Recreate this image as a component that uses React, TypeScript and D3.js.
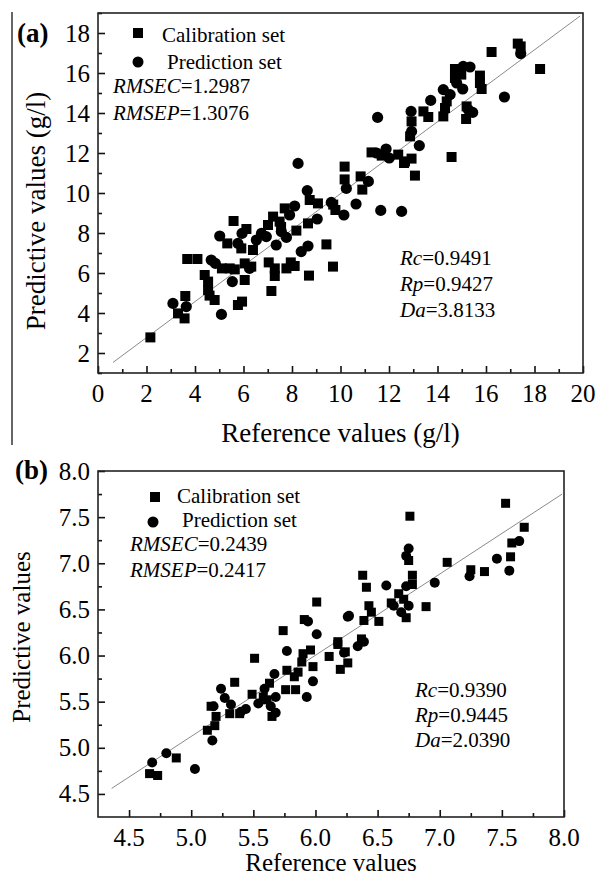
import React, { useEffect, useRef } from "react";
import * as d3 from "d3";

// panel (a): values in g/l
const calibA: [number, number][] = [
  [2.16, 2.78], [3.3, 3.98], [3.57, 3.73], [3.6, 4.85], [3.68, 6.7], [4.1, 6.7], [4.4, 5.9], [4.54, 5.57],
  [4.54, 5.15], [4.6, 4.87], [4.81, 4.65], [5.11, 6.23], [5.43, 6.23], [5.64, 6.18], [6.05, 6.48], [6.32, 6.32],
  [6.05, 5.65], [5.77, 4.4], [5.94, 4.57], [5.33, 7.48], [5.59, 8.6], [5.91, 7.23], [6.12, 8.2], [6.39, 7.15],
  [7.01, 8.4], [7.22, 8.82], [7.49, 8.57], [7.7, 9.23], [8.18, 8.12], [7.04, 6.53], [7.29, 6.23], [7.29, 5.85],
  [7.77, 6.23], [7.95, 6.53], [8.11, 6.35], [7.15, 5.1], [8.7, 5.87], [8.66, 8.48], [8.73, 9.65], [9.07, 9.48],
  [9.42, 7.43], [9.69, 6.32], [9.79, 9.15], [10.17, 11.32], [10.17, 10.68], [10.83, 10.83], [10.9, 10.17],
  [9.7, 9.42], [13.07, 10.87], [14.58, 11.8], [11.28, 12.03], [11.7, 11.87], [12.38, 11.92], [12.66, 11.58],
  [12.93, 11.72], [12.87, 12.83], [12.93, 13.58], [13.42, 14.08], [13.62, 13.8], [14.24, 13.83], [14.31, 14.25],
  [14.38, 14.58], [14.72, 15.75], [14.72, 16.2], [14.98, 15.92], [15.75, 15.87], [15.75, 15.5], [15.82, 15.2],
  [15.2, 14.33], [15.18, 13.7], [16.23, 17.05], [17.31, 17.47], [17.43, 17.33], [18.23, 16.2], [12.62, 11.5],
  [7.55, 8.3],
];
const predA: [number, number][] = [
  [3.09, 4.48], [3.64, 4.32], [4.67, 6.65], [4.84, 6.48], [5.09, 3.93], [5.54, 5.57], [5.02, 7.85], [5.77, 7.48],
  [5.94, 7.98], [6.53, 7.65], [6.74, 7.98], [6.94, 7.82], [7.35, 7.4], [7.56, 8.07], [7.77, 7.78], [7.9, 8.9],
  [8.11, 9.35], [8.38, 7.07], [8.66, 7.35], [8.63, 10.12], [9.04, 8.7], [8.25, 11.48], [9.62, 9.53], [10.14, 8.9],
  [10.24, 10.23], [6.25, 6.23], [11.15, 10.58], [10.64, 9.45], [11.66, 9.13], [12.52, 9.08], [11.49, 12.0],
  [11.88, 12.2], [12.01, 11.75], [13.25, 12.37], [12.93, 13.08], [12.91, 14.08], [11.53, 13.78], [13.72, 14.63],
  [14.24, 15.17], [14.52, 14.92], [14.79, 15.5], [15.06, 16.33], [15.34, 16.3], [15.04, 15.2], [15.27, 14.17],
  [15.45, 14.03], [16.76, 14.8], [17.43, 16.97],
];
const fitA: [number, number][] = [[0.62, 1.53], [19.88, 18.85]];
const statsA = [["RMSEC", "=1.2987"], ["RMSEP", "=1.3076"]];
const coefA = [["Rc", "=0.9491"], ["Rp", "=0.9427"], ["Da", "=3.8133"]];

// panel (b)
const calibB: [number, number][] = [
  [4.665, 4.72], [4.73, 4.7], [4.88, 4.89], [5.13, 5.19], [5.19, 5.24], [5.16, 5.45], [5.2, 5.34], [5.31, 5.37],
  [5.35, 5.71], [5.39, 5.37], [5.49, 5.58], [5.51, 5.97], [5.58, 5.55], [5.61, 5.52], [5.65, 5.34], [5.63, 5.7],
  [5.76, 5.63], [5.77, 5.84], [5.84, 5.63], [5.83, 5.77], [5.74, 6.27], [5.9, 6.02], [5.91, 6.39], [5.98, 5.88],
  [5.96, 6.06], [6.01, 6.58], [6.11, 5.99], [6.18, 6.15], [6.2, 5.85], [6.24, 6.04], [5.89, 5.93], [5.86, 5.82],
  [6.26, 5.92], [6.18, 6.12], [6.37, 6.18], [6.39, 6.38], [6.43, 6.54], [6.45, 6.47], [6.51, 6.37], [6.38, 6.87],
  [6.41, 6.74], [6.61, 6.57], [6.67, 6.67], [6.73, 6.41], [6.71, 6.61], [6.78, 6.77], [6.78, 6.87], [6.75, 7.03],
  [6.76, 7.51], [6.89, 6.53], [7.06, 7.01], [7.25, 6.93], [7.36, 6.91], [7.57, 7.07], [7.58, 7.22], [7.68, 7.39],
  [7.53, 7.65],
];
const predB: [number, number][] = [
  [4.686, 4.84], [4.8, 4.94], [5.03, 4.77], [5.17, 5.08], [5.18, 5.45], [5.24, 5.64], [5.27, 5.54], [5.32, 5.47],
  [5.44, 5.42], [5.4, 5.39], [5.54, 5.48], [5.59, 5.64], [5.64, 5.45], [5.68, 5.38], [5.68, 5.55], [5.67, 5.8],
  [5.77, 6.05], [5.94, 6.37], [5.98, 5.72], [5.93, 5.55], [6.01, 6.23], [6.26, 6.42], [6.23, 6.03], [6.34, 6.1],
  [6.39, 6.15], [6.27, 6.43], [6.57, 6.76], [6.63, 6.54], [6.69, 6.47], [6.75, 6.54], [6.73, 6.75], [6.75, 7.16],
  [6.73, 7.08], [6.96, 6.79], [7.24, 6.86], [7.46, 7.05], [7.56, 6.92], [7.64, 7.24],
];
const fitB: [number, number][] = [[4.36, 4.56], [7.985, 7.75]];
const statsB = [["RMSEC", "=0.2439"], ["RMSEP", "=0.2417"]];
const coefB = [["Rc", "=0.9390"], ["Rp", "=0.9445"], ["Da", "=2.0390"]];

const ticksA = d3.range(0, 21, 2);
const ticksAy = d3.range(2, 19, 2);
const ticksB = d3.range(4.5, 8.01, 0.5);

const FONT = '"Liberation Serif", "Times New Roman", serif';

function drawPanel(svg: any, o: any) {
  const x = d3.scaleLinear().domain(o.xDomain).range([o.left, o.right]);
  const y = d3.scaleLinear().domain(o.yDomain).range([o.bottom, o.top]);
  const g = svg.append("g");

  // inward ticks
  const xAxis = d3.axisTop(x).tickValues(o.xTicks).tickSize(7).tickFormat(() => "");
  const xMinor = d3.axisTop(x).tickValues(o.xMinor).tickSize(4).tickFormat(() => "");
  const yAxis = d3.axisRight(y).tickValues(o.yTicks).tickSize(7).tickFormat(() => "");
  const yMinor = d3.axisRight(y).tickValues(o.yMinor).tickSize(4).tickFormat(() => "");
  [
    [xAxis, `translate(0,${o.bottom})`],
    [xMinor, `translate(0,${o.bottom})`],
    [yAxis, `translate(${o.left},0)`],
    [yMinor, `translate(${o.left},0)`],
  ].forEach(([ax, tr]: any) => {
    const a = g.append("g").attr("transform", tr).call(ax);
    a.select(".domain").remove();
    a.selectAll("line").attr("stroke", "#111").attr("stroke-width", 1.6);
  });

  g.append("rect")
    .attr("x", o.left).attr("y", o.top)
    .attr("width", o.right - o.left).attr("height", o.bottom - o.top)
    .attr("fill", "none").attr("stroke", "#222").attr("stroke-width", 1.6);

  // tick labels
  g.selectAll(".xl").data(o.xTicks).enter().append("text")
    .attr("x", (d: number) => x(d)).attr("y", o.bottom + 29)
    .attr("text-anchor", "middle").attr("font-size", 25).attr("font-family", FONT)
    .text(o.fmt);
  g.selectAll(".yl").data(o.yTicks).enter().append("text")
    .attr("x", o.left - 8).attr("y", (d: number) => y(d) + 8.5)
    .attr("text-anchor", "end").attr("font-size", 25).attr("font-family", FONT)
    .text(o.fmt);

  // fit line
  g.append("line")
    .attr("x1", x(o.fit[0][0])).attr("y1", y(o.fit[0][1]))
    .attr("x2", x(o.fit[1][0])).attr("y2", y(o.fit[1][1]))
    .attr("stroke", "#8a8a8a").attr("stroke-width", 1);

  // points
  g.selectAll(".sq").data(o.calib).enter().append("rect")
    .attr("x", (d: number[]) => x(d[0]) - o.sq / 2)
    .attr("y", (d: number[]) => y(d[1]) - o.sq / 2)
    .attr("width", o.sq).attr("height", o.sq).attr("fill", "#000");
  g.selectAll(".ci").data(o.pred).enter().append("circle")
    .attr("cx", (d: number[]) => x(d[0])).attr("cy", (d: number[]) => y(d[1]))
    .attr("r", o.r).attr("fill", "#000");

  // legend
  const lg = o.legend;
  g.append("rect").attr("x", lg.sx - 5).attr("y", lg.sy - 5).attr("width", 10).attr("height", 10).attr("fill", "#000");
  g.append("text").attr("x", lg.tx1).attr("y", lg.ty1).attr("font-size", 21).attr("font-family", FONT).text("Calibration set");
  g.append("circle").attr("cx", lg.cx).attr("cy", lg.cy).attr("r", 5.5).attr("fill", "#000");
  g.append("text").attr("x", lg.tx2).attr("y", lg.ty2).attr("font-size", 21).attr("font-family", FONT).text("Prediction set");

  const statText = (rows: string[][], x0: number, ys: number[]) => {
    rows.forEach((r, i) => {
      const t = g.append("text").attr("x", x0).attr("y", ys[i]).attr("font-size", 21).attr("font-family", FONT);
      t.append("tspan").attr("font-style", "italic").text(r[0]);
      t.append("tspan").text(r[1]);
    });
  };
  statText(o.stats, o.statsX, o.statsY);
  statText(o.coef, o.coefX, o.coefY);

  // titles
  g.append("text").attr("x", (o.left + o.right) / 2).attr("y", o.xTitleY)
    .attr("text-anchor", "middle").attr("font-size", o.titleSize).attr("font-family", FONT).text(o.xTitle);
  g.append("text").attr("transform", `translate(${o.yTitleX},${o.yTitleCY}) rotate(-90)`)
    .attr("text-anchor", "middle").attr("font-size", o.titleSize).attr("font-family", FONT).text(o.yTitle);
  g.append("text").attr("x", o.tagX).attr("y", o.tagY)
    .attr("font-size", 27).attr("font-weight", "bold").attr("font-family", FONT).text(o.tag);
}

export default function App() {
  const ref = useRef<SVGSVGElement>(null);

  useEffect(() => {
    const svg = d3.select(ref.current);
    svg.selectAll("*").remove();

    svg.append("line").attr("x1", 12).attr("x2", 12).attr("y1", 12).attr("y2", 445)
      .attr("stroke", "#333").attr("stroke-width", 1.5);

    drawPanel(svg, {
      left: 98, right: 583, top: 13, bottom: 373,
      xDomain: [0, 20], yDomain: [1, 19],
      xTicks: ticksA, xMinor: d3.range(1, 20, 2),
      yTicks: ticksAy, yMinor: d3.range(1, 20, 2),
      fmt: (d: number) => String(d),
      calib: calibA, pred: predA, fit: fitA, sq: 10, r: 5.6,
      legend: { sx: 138, sy: 33, tx1: 162, ty1: 42, cx: 138, cy: 62, tx2: 167, ty2: 69 },
      stats: statsA, statsX: 113, statsY: [93, 120],
      coef: coefA, coefX: 400, coefY: [265, 291, 317],
      xTitle: "Reference values (g/l)", xTitleY: 442,
      yTitle: "Predictive values (g/l)", yTitleX: 45, yTitleCY: 211,
      titleSize: 27, tag: "(a)", tagX: 17, tagY: 42,
    });

    drawPanel(svg, {
      left: 98, right: 564, top: 471, bottom: 817,
      xDomain: [4.25, 8.0], yDomain: [4.25, 8.0],
      xTicks: ticksB, xMinor: d3.range(4.75, 8, 0.5),
      yTicks: ticksB, yMinor: d3.range(4.75, 8, 0.5),
      fmt: (d: number) => d.toFixed(1),
      calib: calibB, pred: predB, fit: fitB, sq: 9, r: 5,
      legend: { sx: 155, sy: 497, tx1: 177, ty1: 503, cx: 153, cy: 522, tx2: 182, ty2: 527 },
      stats: statsB, statsX: 130, statsY: [551, 577],
      coef: coefB, coefX: 415, coefY: [697, 722, 747],
      xTitle: "Reference values", xTitleY: 871,
      yTitle: "Predictive values", yTitleX: 30, yTitleCY: 637,
      titleSize: 25, tag: "(b)", tagX: 15, tagY: 479,
    });
  }, []);

  return (
    <svg ref={ref} width={598} height={879}
      style={{ position: "absolute", left: 0, top: 0, background: "#fff" }} />
  );
}
